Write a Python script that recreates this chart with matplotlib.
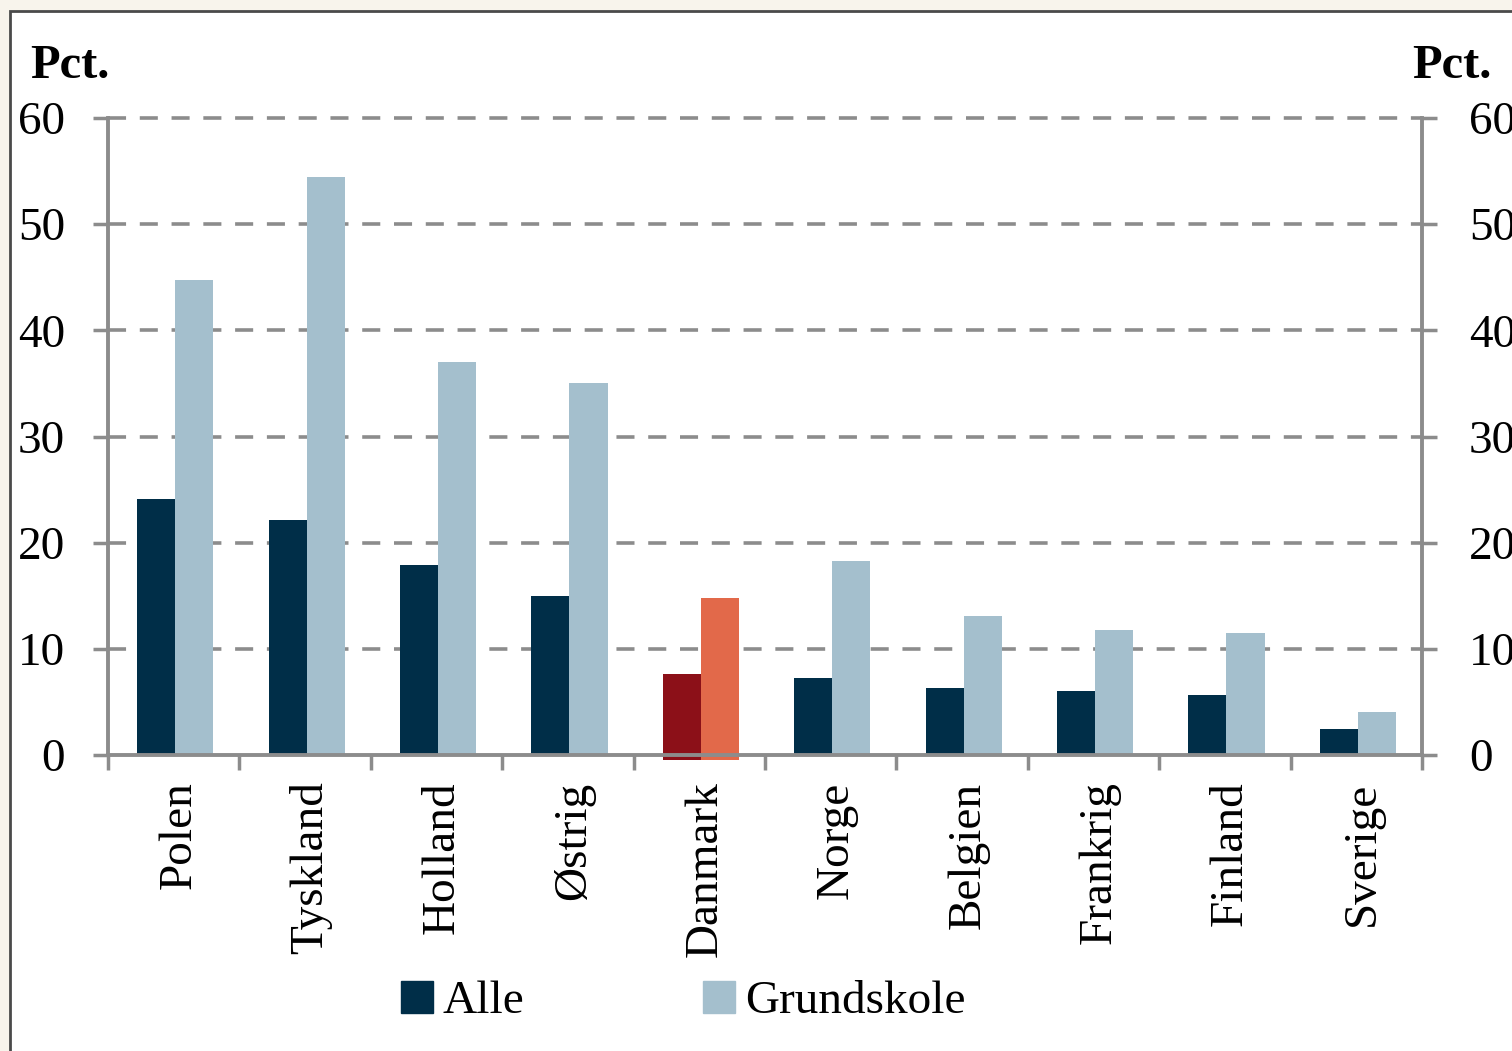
import matplotlib.pyplot as plt
from matplotlib.patches import Rectangle
from matplotlib.transforms import ScaledTranslation
import numpy as np

# Data
countries = ["Polen", "Tyskland", "Holland", "Østrig", "Danmark",
             "Norge", "Belgien", "Frankrig", "Finland", "Sverige"]
alle = [24.1, 22.1, 17.9, 15.0, 7.6, 7.25, 6.3, 6.0, 5.65, 2.45]
grundskole = [44.7, 54.4, 37.0, 35.0, 14.8, 18.3, 13.1, 11.8, 11.5, 4.05]
highlight = "Danmark"
yticks = [0, 10, 20, 30, 40, 50, 60]

# Colours
c_alle = "#002e48"
c_grund = "#a4bfcd"
c_alle_dk = "#8c1018"
c_grund_dk = "#e2694a"
c_grey = "#8c8c8c"

plt.rcParams['font.family'] = ['Liberation Serif', 'DejaVu Serif']

fig = plt.figure(figsize=(15.12, 10.51), dpi=100)
fig.patch.set_facecolor("#f8f4ec")
# white panel with dark frame
fig.patches.append(Rectangle((10 / 1512, -0.01), 1.01, 1 - 11 / 1051 + 0.01,
                             transform=fig.transFigure, facecolor="white",
                             edgecolor="#4a4a4a", linewidth=2, zorder=-5))

ax = fig.add_axes([108 / 1512, 1 - 755 / 1051, (1422 - 108) / 1512,
                   (755 - 118) / 1051])
ax.set_facecolor("none")

x = np.arange(len(countries))
w = 0.29
off = 0.012
for i, c in enumerate(countries):
    if c == highlight:
        # highlighted bars hang slightly below the axis line
        ax.bar(x[i] - w / 2 + off, alle[i] + 0.45, w, bottom=-0.45,
               color=c_alle_dk, zorder=3, clip_on=False)
        ax.bar(x[i] + w / 2 + off, grundskole[i] + 0.45, w, bottom=-0.45,
               color=c_grund_dk, zorder=3, clip_on=False)
    else:
        ax.bar(x[i] - w / 2 + off, alle[i], w, color=c_alle, zorder=3)
        ax.bar(x[i] + w / 2 + off, grundskole[i], w, color=c_grund, zorder=3)

ax.set_xlim(-0.5, len(countries) - 0.5)
ax.set_ylim(0, 60)

# gridlines
for v in yticks[1:]:
    ax.axhline(v, color=c_grey, lw=2.6, ls=(0, (5, 3.8)), zorder=1,
               clip_on=False)

ax.spines["top"].set_visible(False)
for s in ["left", "right", "bottom"]:
    ax.spines[s].set_color(c_grey)
    ax.spines[s].set_linewidth(2.8)
ax.spines["bottom"].set_zorder(4)

ax.set_yticks(yticks)
ax.tick_params(axis="y", which="both", direction="out", length=11,
               width=2.5, color=c_grey, labelsize=34, pad=20,
               right=True, labelright=True)
# push right-hand labels further out
for t in ax.yaxis.get_major_ticks():
    t.label2.set_transform(t.label2.get_transform()
                           + ScaledTranslation(4 / 100, 0, fig.dpi_scale_trans))

ax.set_xticks(x)
ax.set_xticklabels(countries, rotation=90, fontsize=34)
ax.tick_params(axis="x", which="major", length=0, pad=19)
for lab in ax.get_xticklabels():
    lab.set_transform(lab.get_transform()
                      + ScaledTranslation(6 / 100, 0, fig.dpi_scale_trans))
ax.set_xticks(np.arange(-0.5, len(countries)), minor=True)
ax.tick_params(axis="x", which="minor", direction="out", length=11,
               width=2.5, color=c_grey)

fig.text(30 / 1512, 1 - 78 / 1051, "Pct.", fontsize=35, fontweight="bold",
         ha="left", va="baseline")
fig.text(1492 / 1512, 1 - 78 / 1051, "Pct.", fontsize=35, fontweight="bold",
         ha="right", va="baseline")

handles = [Rectangle((0, 0), 1, 1, color=c_alle),
           Rectangle((0, 0), 1, 1, color=c_grund)]
fig.legend(handles, ["Alle", "Grundskole"], loc="center", ncol=2,
           bbox_to_anchor=(683 / 1512, 1 - 1002 / 1051), frameon=False,
           fontsize=34, handlelength=0.68, handleheight=0.68,
           handletextpad=0.2, columnspacing=3.8)

fig.savefig("out.png", dpi=100, facecolor=fig.get_facecolor())
